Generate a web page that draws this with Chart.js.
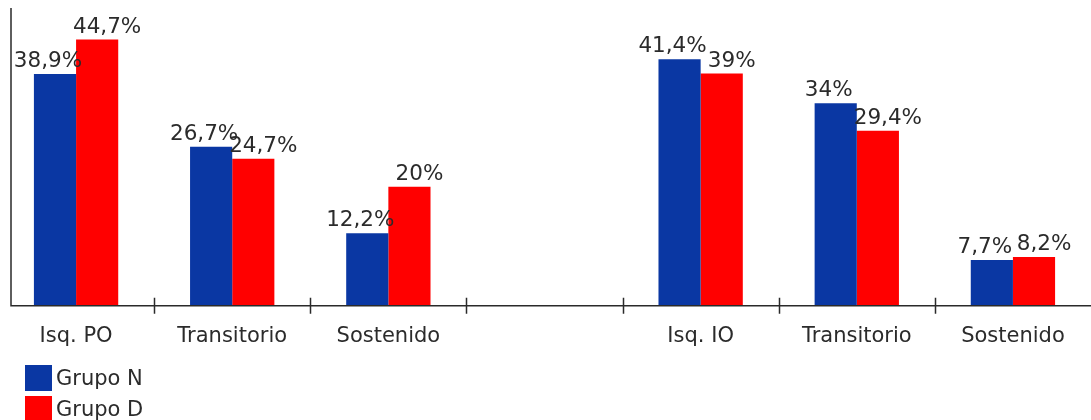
<!DOCTYPE html>
<html>
<head>
<meta charset="utf-8">
<script src="https://cdn.jsdelivr.net/npm/chart.js@4.4.1/dist/chart.umd.min.js"></script>
<style>
  html, body { margin: 0; padding: 0; background: #fff; overflow: hidden; }
  #wrap { position: relative; width: 1091px; height: 420px; overflow: hidden; }
  #box { position: absolute; left: -2px; top: 0; width: 1093px; height: 420px; }
  #legend { position: absolute; left: 25px; top: 362px; font-family: 'DejaVu Sans', sans-serif; font-size: 21px; color: #2b2b2b; }
  .lg-row { display: flex; align-items: center; height: 31px; }
  .lg-sw { width: 27px; height: 26px; margin-right: 4px; }
</style>
</head>
<body>
<div id="wrap">
  <div id="box"><canvas id="chart"></canvas></div>
  <div id="legend"></div>
</div>
<script>
const categories = ['Isq. PO', 'Transitorio', 'Sostenido', '', 'Isq. IO', 'Transitorio', 'Sostenido'];
const grupoN = [38.9, 26.7, 12.2, null, 41.4, 34, 7.7];
const grupoD = [44.7, 24.7, 20, null, 39, 29.4, 8.2];

const BLUE = '#0a37a3';
const RED = '#ff0000';
const TEXT = '#2b2b2b';

// value labels above bars, axis lines and tick marks drawn from the scales
const overlay = {
    id: 'overlay',
    afterDatasetsDraw(chart) {
        const ctx = chart.ctx;
        const x = chart.scales.x;
        const y = chart.scales.y;
        const base = y.getPixelForValue(0);
        const axisX = x.left + 13;

        ctx.save();
        ctx.strokeStyle = '#2a2a2a';
        ctx.lineWidth = 1.5;
        ctx.beginPath();
        ctx.moveTo(axisX, y.top);
        ctx.lineTo(axisX, base);
        ctx.lineTo(x.right, base);
        for (let i = 0; i < categories.length - 1; i++) {
            const px = Math.round((x.getPixelForValue(i) + x.getPixelForValue(i + 1)) / 2) + 0.5;
            ctx.moveTo(px, base - 8);
            ctx.lineTo(px, base + 8);
        }
        ctx.stroke();

        ctx.fillStyle = TEXT;
        ctx.font = '21.5px "DejaVu Sans"';
        ctx.textAlign = 'center';
        ctx.textBaseline = 'alphabetic';
        chart.data.datasets.forEach((ds, di) => {
            const shift = di === 0 ? -7 : 10;
            chart.getDatasetMeta(di).data.forEach((el, i) => {
                const v = ds.data[i];
                if (v === null) return;
                ctx.fillText(String(v).replace('.', ',') + '%', el.x + shift, el.y - 7);
            });
        });
        ctx.restore();
    }
};

const chart = new Chart(document.getElementById('chart'), {
    type: 'bar',
    data: {
        labels: categories,
        datasets: [
            { label: 'Grupo N', data: grupoN, backgroundColor: BLUE },
            { label: 'Grupo D', data: grupoD, backgroundColor: RED }
        ]
    },
    options: {
        responsive: true,
        maintainAspectRatio: false,
        animation: false,
        categoryPercentage: 0.54,
        barPercentage: 1,
        layout: { padding: { top: 8, bottom: 61, left: 0, right: 0 } },
        scales: {
            x: {
                grid: { display: false },
                border: { display: false },
                ticks: {
                    color: TEXT,
                    font: { family: 'DejaVu Sans', size: 21 },
                    padding: 10,
                    autoSkip: false,
                    maxRotation: 0
                }
            },
            y: {
                display: false,
                min: 0,
                max: 50
            }
        },
        plugins: {
            legend: { display: false },
            tooltip: { enabled: false }
        }
    },
    plugins: [overlay]
});

// legend built from the datasets
const legend = document.getElementById('legend');
chart.data.datasets.forEach(ds => {
    const row = document.createElement('div');
    row.className = 'lg-row';
    row.innerHTML = `<span class="lg-sw" style="background:${ds.backgroundColor}"></span><span>${ds.label}</span>`;
    legend.appendChild(row);
});
</script>
</body>
</html>
